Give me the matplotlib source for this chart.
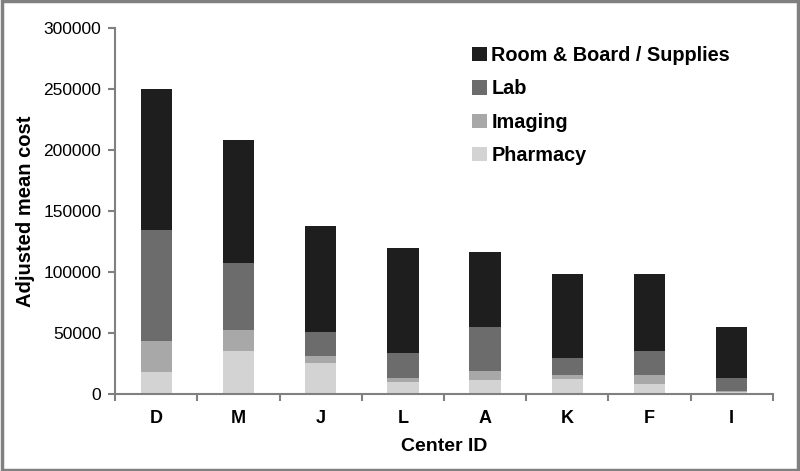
import numpy as np
import matplotlib.pyplot as plt
from matplotlib.patches import Rectangle

plt.rcParams['font.family'] = ['Liberation Sans', 'DejaVu Sans']

# Data
centers = ["D", "M", "J", "L", "A", "K", "F", "I"]
pharmacy = [18000, 35300, 25400, 9800, 11500, 12300, 8200, 1500]
imaging = [25500, 17200, 5600, 3300, 7400, 3300, 7400, 1500]
lab = [91500, 54900, 19800, 20500, 36100, 13900, 19700, 10100]
room = [115000, 100600, 86900, 86100, 61400, 68900, 63100, 41900]

series = [
    ("Pharmacy", pharmacy, "#d3d3d3"),
    ("Imaging", imaging, "#a8a8a8"),
    ("Lab", lab, "#6c6c6c"),
    ("Room & Board / Supplies", room, "#1e1e1e"),
]

fig = plt.figure(figsize=(8, 4.71), dpi=100)
ax = fig.add_axes([0.144, 0.163, 0.822, 0.777])

x = np.arange(len(centers))
bottom = np.zeros(len(centers))
handles = []
for name, vals, color in series:
    h = ax.bar(x, vals, width=0.38, bottom=bottom, color=color, label=name)
    bottom += np.array(vals)
    handles.append(h)

ax.set_xlim(-0.5, len(centers) - 0.5)
ax.set_ylim(0, 300000)
ax.set_yticks(np.arange(0, 300001, 50000))
ax.set_xticks(x)
ax.set_xticklabels(centers, fontweight="bold", fontsize=13)
ax.set_xticks(np.arange(-0.5, len(centers)), minor=True)
ax.tick_params(axis="x", which="major", length=0, pad=11)
ax.tick_params(axis="x", which="minor", length=5, width=1.5, color="#808080")
ax.tick_params(axis="y", length=5, width=1.5, color="#808080", labelsize=12.5, pad=5)

for s in ["top", "right"]:
    ax.spines[s].set_visible(False)
for s in ["left", "bottom"]:
    ax.spines[s].set_color("#808080")
    ax.spines[s].set_linewidth(1.5)

ax.set_ylabel("Adjusted mean cost", fontsize=14.5, fontweight="bold", labelpad=6)
ax.set_xlabel("Center ID", fontsize=14, fontweight="bold", labelpad=8)

leg = ax.legend(handles[::-1], [s[0] for s in series][::-1], loc="upper right",
                bbox_to_anchor=(0.962, 1.0), frameon=False,
                prop={"weight": "bold", "size": 14.3}, handlelength=0.75,
                handleheight=0.75, handletextpad=0.2, labelspacing=0.72)

fig.patches.append(Rectangle((0.002, 0.003), 0.996, 0.994, transform=fig.transFigure,
                             fill=False, edgecolor="#808080", linewidth=2.5))

fig.savefig("out.png", dpi=100)
